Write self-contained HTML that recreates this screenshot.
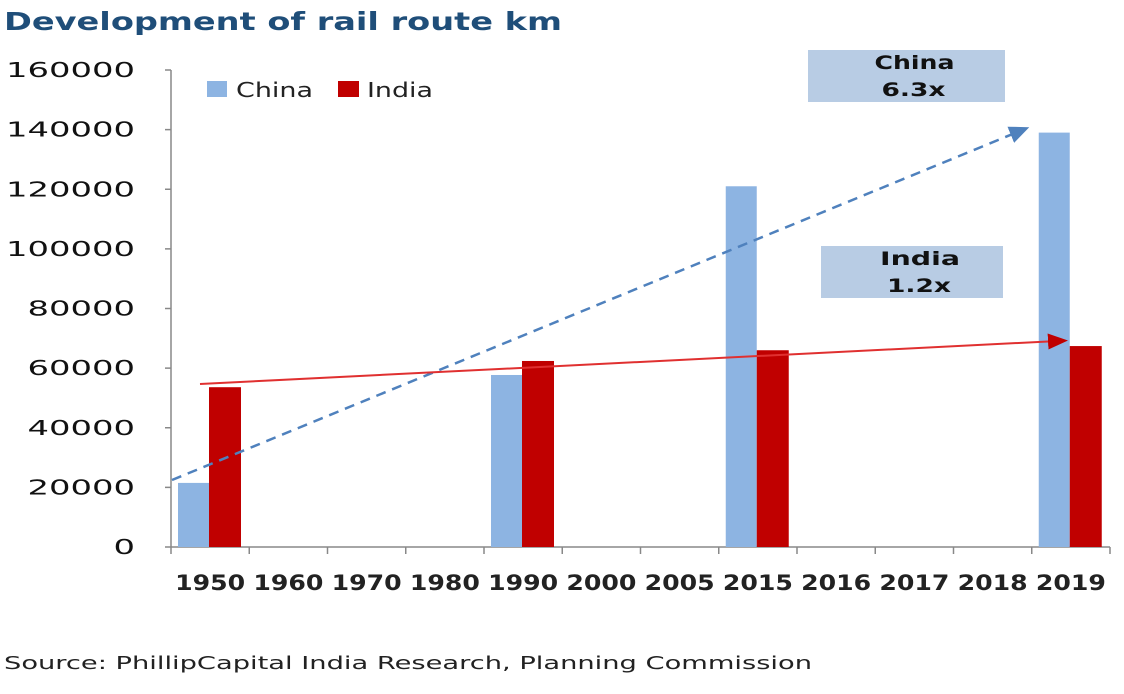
<!DOCTYPE html>
<html><head><meta charset="utf-8"><style>
body{margin:0;background:#fff;width:1124px;height:690px;overflow:hidden;font-family:"DejaVu Sans","Liberation Sans",sans-serif}
</style></head><body>
<svg width="1124" height="690" id="c" font-family="DejaVu Sans, Liberation Sans, sans-serif">
<text x="4" y="30" font-size="25" font-weight="bold" fill="#1f4e79" textLength="558" lengthAdjust="spacingAndGlyphs">Development of rail route km</text>
<text x="4" y="669" font-size="18" fill="#222" textLength="808" lengthAdjust="spacingAndGlyphs">Source: PhillipCapital India Research, Planning Commission</text>
<g>
<rect x="207" y="81" width="20" height="16" fill="#8db4e2"/>
<text x="236" y="97" font-size="20" fill="#222" textLength="77" lengthAdjust="spacingAndGlyphs">China</text>
<rect x="338" y="81" width="21" height="16" fill="#c00000"/>
<text x="367" y="97" font-size="20" fill="#222" textLength="66" lengthAdjust="spacingAndGlyphs">India</text>
</g>
<defs>
<marker id="ab" markerWidth="8" markerHeight="7" refX="4" refY="3.5" orient="auto" markerUnits="strokeWidth"><path d="M0,0 L8,3.5 L0,7 z" fill="#4f81bd"/></marker>
<marker id="ar" markerWidth="10" markerHeight="8" refX="5" refY="4" orient="auto" markerUnits="strokeWidth"><path d="M0,0 L10,4 L0,8 z" fill="#c00000"/></marker>
</defs>
</svg>
<script>
const categories=["1950","1960","1970","1980","1990","2000","2005","2015","2016","2017","2018","2019"];
const china=[21500,null,null,null,57700,null,null,121000,null,null,null,139000];
const india=[53600,null,null,null,62400,null,null,66000,null,null,null,67400];
const yTicks=[0,20000,40000,60000,80000,100000,120000,140000,160000];
const NS="http://www.w3.org/2000/svg";
const svg=document.getElementById('c');
const x0=171,x1=1110,y0=547,y1=70,yMax=160000;
const bw=(x1-x0)/categories.length;
const y=v=>y0-(v/yMax)*(y0-y1);
const xc=i=>x0+bw*i;
function mk(t,a){const e=document.createElementNS(NS,t);for(const k in a)e.setAttribute(k,a[k]);svg.appendChild(e);return e;}
let e;
e=mk('line',{x1:x0,y1:y1,x2:x0,y2:y0,stroke:'#888','stroke-width':1.5});


e=mk('line',{x1:x0,y1:y0,x2:x1,y2:y0,stroke:'#888','stroke-width':1.5});


yTicks.forEach(v=>{
 mk('line',{x1:x0-6,y1:y(v),x2:x0,y2:y(v),stroke:'#888','stroke-width':1.5});
 const s=String(v);
 e=mk('text',{x:135-s.length*21.5,y:y(v)+7,'font-size':20,fill:'#111',textLength:s.length*21.5,lengthAdjust:'spacingAndGlyphs'});e.textContent=s;
 
 
});
categories.forEach((c,i)=>{
 mk('line',{x1:xc(i),y1:y0,x2:xc(i),y2:y0+7,stroke:'#888','stroke-width':1.5});
 e=mk('text',{x:xc(i)+bw/2-35,y:y0+43,'font-size':21,'font-weight':'bold',fill:'#222',textLength:70,lengthAdjust:'spacingAndGlyphs'});e.textContent=c;
 
 
 if(china[i]!=null){e=mk('rect',{x:xc(i)+7,y:y(china[i]),width:31,height:y0-y(china[i]),fill:'#8db4e2'});
 
 }
 if(india[i]!=null){e=mk('rect',{x:xc(i)+38,y:y(india[i]),width:32,height:y0-y(india[i]),fill:'#c00000'});
 
 }
});
mk('line',{x1:x1,y1:y0,x2:x1,y2:y0+7,stroke:'#888','stroke-width':1.5});
e=mk('line',{x1:172,y1:480,x2:1020,y2:131,stroke:'#4f81bd','stroke-width':2.5,'stroke-dasharray':'10,7','marker-end':'url(#ab)'});


e=mk('line',{x1:200,y1:384,x2:1058,y2:341,stroke:'#e03030','stroke-width':2,'marker-end':'url(#ar)'});


[[808,50,197,52,'China','6.3x','china-growth-box'],[821,246,182,52,'India','1.2x','india-growth-box']].forEach(b=>{
 e=mk('rect',{x:b[0],y:b[1],width:b[2],height:b[3],fill:'#b8cce4'});
 
 
 const cx=b[0]+b[2]/2+8;
 const t1=mk('text',{x:cx-40,y:b[1]+19,'font-size':19,'font-weight':'bold',fill:'#111',textLength:80,lengthAdjust:'spacingAndGlyphs'});t1.textContent=b[4];
 const t2=mk('text',{x:cx-33,y:b[1]+46,'font-size':19,'font-weight':'bold',fill:'#111',textLength:64,lengthAdjust:'spacingAndGlyphs'});t2.textContent=b[5];
});
</script>
</body></html>
